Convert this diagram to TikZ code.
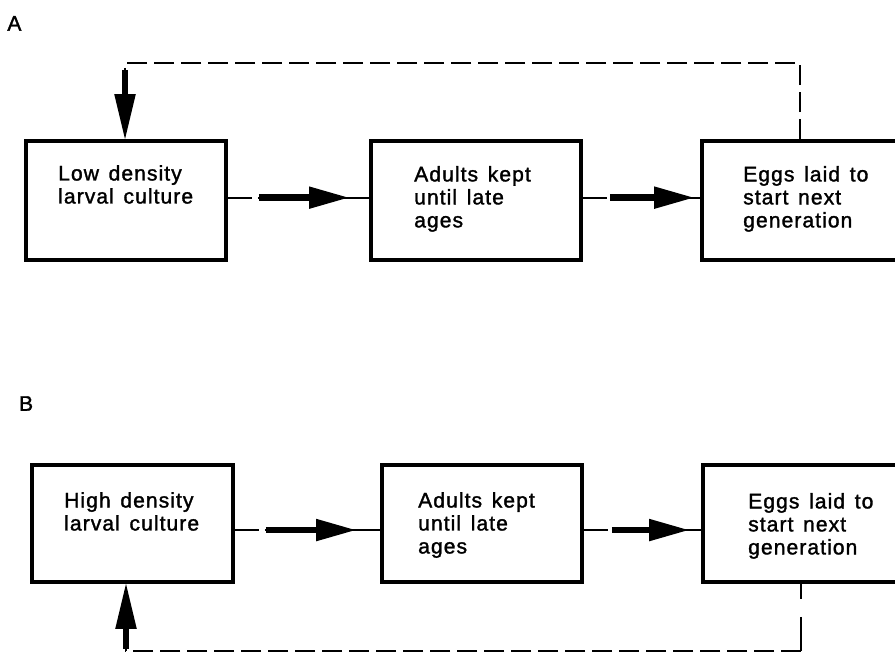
\documentclass[tikz,border=0pt]{standalone}
\usepackage{fontspec}
\setmainfont{Liberation Sans}[LetterSpace=5, FakeBold=1.5, WordSpace=1.4]
\usetikzlibrary{arrows.meta,calc}
\newcommand{\boxfont}{\fontsize{20}{21.8}\selectfont}

\begin{document}
\begin{tikzpicture}[
  box/.style={draw, line width=3.6pt, inner sep=0pt},
  txt/.style={anchor=north west, align=left, inner sep=0pt, font=\boxfont},
  panel/.style={inner sep=0pt, font=\boxfont},
  lead/.style={line width=1.8pt, dash pattern=on 0.8cm off 0.2cm on 30cm},
  fat/.style={line width=6pt, -{Triangle[length=1.3cm, width=0.75cm, line width=0pt]}},
  fatv/.style={line width=6pt, -{Triangle[length=1.5cm, width=0.72cm, line width=0pt]}},
  fb/.style={line width=1.9pt, dash pattern=on 0.67cm off 0.23cm}
]
\useasboundingbox (0,0) rectangle (29.833,-21.767);

% Panel A
\node[panel] (labA) at (0.48,-0.78) {A};
\node[box, minimum width=6.667cm, minimum height=3.967cm] (lowA) at (4.2,-6.683) {};
\node[box, minimum width=7cm, minimum height=3.967cm] (adultA) at (15.867,-6.683) {};
\node[box, minimum width=6.533cm, minimum height=3.967cm] (eggsA) at (26.667,-6.683) {};
\node[txt] (lowAtxt) at (1.933,-5.5) {Low density\\larval culture};
\node[txt] (adultAtxt) at (13.8,-5.53) {Adults kept\\until late\\ages};
\node[txt] (eggsAtxt) at (24.767,-5.53) {Eggs laid to\\start next\\generation};

% A: forward arrows
\draw[lead] ([yshift=2.7pt]lowA.east) -- ([yshift=2.7pt]adultA.west);
\draw[fat] ($([yshift=2.7pt]lowA.east)+(1.03,0)$) -- ($([yshift=2.7pt]adultA.west)-(0.7,0)$);
\draw[lead] ([yshift=2.7pt]adultA.east) -- ([yshift=2.7pt]eggsA.west);
\draw[fat] ($([yshift=2.7pt]adultA.east)+(0.9,0)$) -- ($([yshift=2.7pt]eggsA.west)-(0.23,0)$);

% A: feedback over the top
\coordinate (topA) at (4.167,-2.1);
\draw[fb] (eggsA.north) -- (eggsA.north |- topA) -- (topA) -- ++(0,-0.23) coordinate (shA);
\draw[fatv] (shA) -- (lowA.north -| topA);

% Panel B
\node[panel] (labB) at (0.87,-13.45) {B};
\node[box, minimum width=6.7cm, minimum height=3.9cm] (highB) at (4.417,-17.45) {};
\node[box, minimum width=6.667cm, minimum height=3.9cm] (adultB) at (16.067,-17.45) {};
\node[box, minimum width=6.533cm, minimum height=3.9cm] (eggsB) at (26.7,-17.45) {};
\node[txt] (highBtxt) at (2.133,-16.4) {High density\\larval culture};
\node[txt] (adultBtxt) at (13.933,-16.4) {Adults kept\\until late\\ages};
\node[txt] (eggsBtxt) at (24.933,-16.43) {Eggs laid to\\start next\\generation};

% B: forward arrows
\draw[lead] ([yshift=-6.2pt]highB.east) -- ([yshift=-6.2pt]adultB.west);
\draw[fat] ($([yshift=-6.2pt]highB.east)+(1.03,0)$) -- ($([yshift=-6.2pt]adultB.west)-(0.83,0)$);
\draw[lead] ([yshift=-6.2pt]adultB.east) -- ([yshift=-6.2pt]eggsB.west);
\draw[fat] ($([yshift=-6.2pt]adultB.east)+(0.93,0)$) -- ($([yshift=-6.2pt]eggsB.west)-(0.43,0)$);

% B: feedback underneath
\coordinate (botB) at (4.2,-21.7);
\draw[fb, dash pattern=on 0.5cm off 0.6cm on 2cm]
  (eggsB.south) -- (eggsB.south |- botB) coordinate (cornB);
\draw[fb] (cornB) -- (botB) -- ++(0,0.07) coordinate (shB);
\draw[fatv] (shB) -- (highB.south -| botB);
\end{tikzpicture}
\end{document}
